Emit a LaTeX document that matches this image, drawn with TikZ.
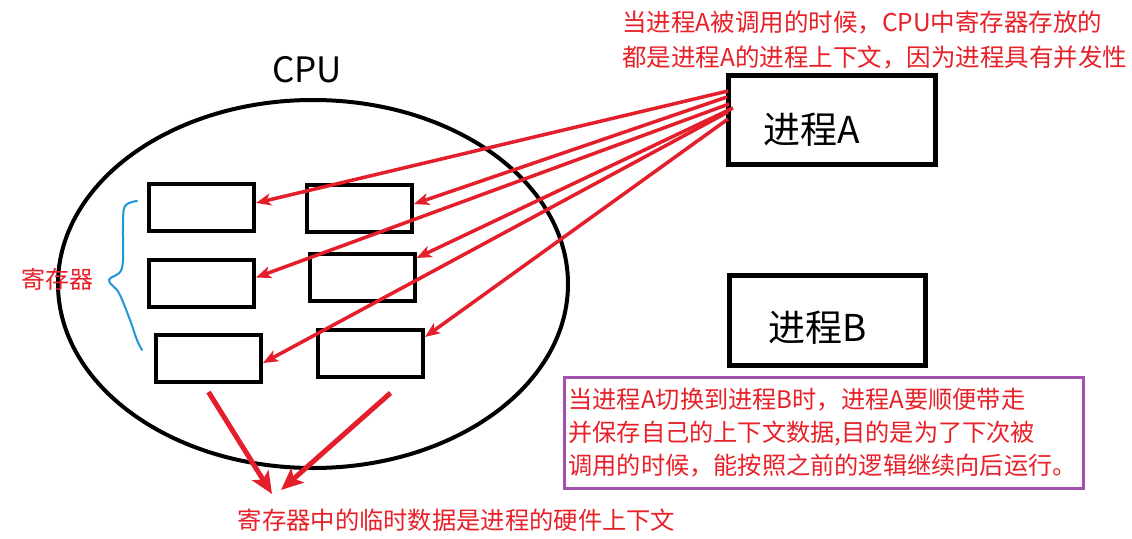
\documentclass[tikz,border=0pt]{standalone}
\usepackage{fontspec}
\setmainfont{Noto Sans CJK SC}
\usetikzlibrary{arrows.meta,shapes.geometric}
\definecolor{myred}{RGB}{232,32,40}
\definecolor{arrred}{RGB}{228,30,42}
\definecolor{mypurple}{RGB}{160,82,172}
\definecolor{myblue}{RGB}{30,150,215}
\begin{document}
\begin{tikzpicture}[x=1pt,y=-1pt,
  reg/.style={draw,line width=4pt,minimum width=105pt,minimum height=47pt,inner sep=0pt},
  procbox/.style={draw,line width=5pt,inner sep=0pt},
  proctext/.style={font=\fontsize{37}{40}\selectfont,inner sep=0pt},
  redtext/.style={text=myred,inner sep=0pt},
  ptr/.style={draw=arrred,line width=3.5pt,-{Stealth[length=15pt,width=12pt,inset=4pt]}},
  bigptr/.style={draw=arrred,line width=5pt,-{Stealth[length=22pt,width=19pt,inset=5pt]}},
]
\useasboundingbox[fill=white] (0,0) rectangle (1132,538);

% CPU ellipse and label
\node[draw,ellipse,line width=4pt,minimum width=510pt,minimum height=368pt,inner sep=0pt] (cpu) at (313,284) {};
\node[font=\fontsize{35}{38}\selectfont,inner sep=0pt] (cpulabel) at (307,70) {CPU};

% registers
\node[reg] (r1) at (201.5,207) {};
\node[reg] (r2) at (359.5,208) {};
\node[reg] (r3) at (201.5,283.5) {};
\node[reg] (r4) at (362,277) {};
\node[reg] (r5) at (208.5,358.5) {};
\node[reg] (r6) at (370.5,353.5) {};

% brace and label
\draw[myblue,line width=2pt,line cap=round] plot[smooth,tension=0.6] coordinates
  {(137,201) (125,206) (123,225) (122,268) (109,280) (119,293) (130,320) (137,340) (142,350)};
\node[redtext,font=\fontsize{24}{28}\selectfont] (reglabel) at (57,279) {寄存器};

% processes
\node[procbox,minimum width=207pt,minimum height=89pt] (pa) at (832,120) {};
\node[proctext] (patext) at (812,130) {进程A};
\node[procbox,minimum width=196pt,minimum height=90pt] (pb) at (827.5,320.5) {};
\node[proctext] (pbtext) at (817.5,328) {进程B};

% top note
\node[redtext,font=\fontsize{24.5}{35}\selectfont,align=left,anchor=west] (topnote) at (622,39.5)
  {当进程A被调用的时候，CPU中寄存器存放的\\都是进程A的进程上下文，因为进程具有并发性};

% purple note
\node[draw=mypurple,line width=3pt,minimum width=519pt,minimum height=111pt,
      inner xsep=4pt,inner ysep=2pt,text width=511pt,align=left,text=myred,
      font=\fontsize{24.2}{33}\selectfont] (note) at (824,433)
  {当进程A切换到进程B时，进程A要顺便带走\\并保存自己的上下文数据,目的是为了下次被\\调用的时候，能按照之前的逻辑继续向后运行。};

% bottom note
\node[redtext,font=\fontsize{24.3}{28}\selectfont] (hwnote) at (456.5,520) {寄存器中的临时数据是进程的硬件上下文};

% arrows from process A
\coordinate (s1) at (728,91);
\coordinate (s2) at (727,97);
\coordinate (s3) at (729,104);
\coordinate (s4) at (733,108);
\coordinate (s5) at (728,112);
\coordinate (s6) at (728,119);
\draw[ptr] (s1) -- ([yshift=4pt]r1.east);
\draw[ptr] (s2) -- ([yshift=4pt]r2.east);
\draw[ptr] (s3) -- ([yshift=6pt]r3.east);
\draw[ptr] (s4) -- ([yshift=19pt]r4.east);
\draw[ptr] (s5) -- ([yshift=-4.5pt]r5.east);
\draw[ptr] (s6) -- ([yshift=16.5pt]r6.east);

% arrows to hardware context note
\coordinate (t1) at (272,494);
\coordinate (t2) at (281,490);
\draw[bigptr] ([yshift=-8pt]r5.south) -- (t1);
\draw[bigptr] ([xshift=20pt,yshift=-14pt]r6.south) -- (t2);
\end{tikzpicture}
\end{document}
